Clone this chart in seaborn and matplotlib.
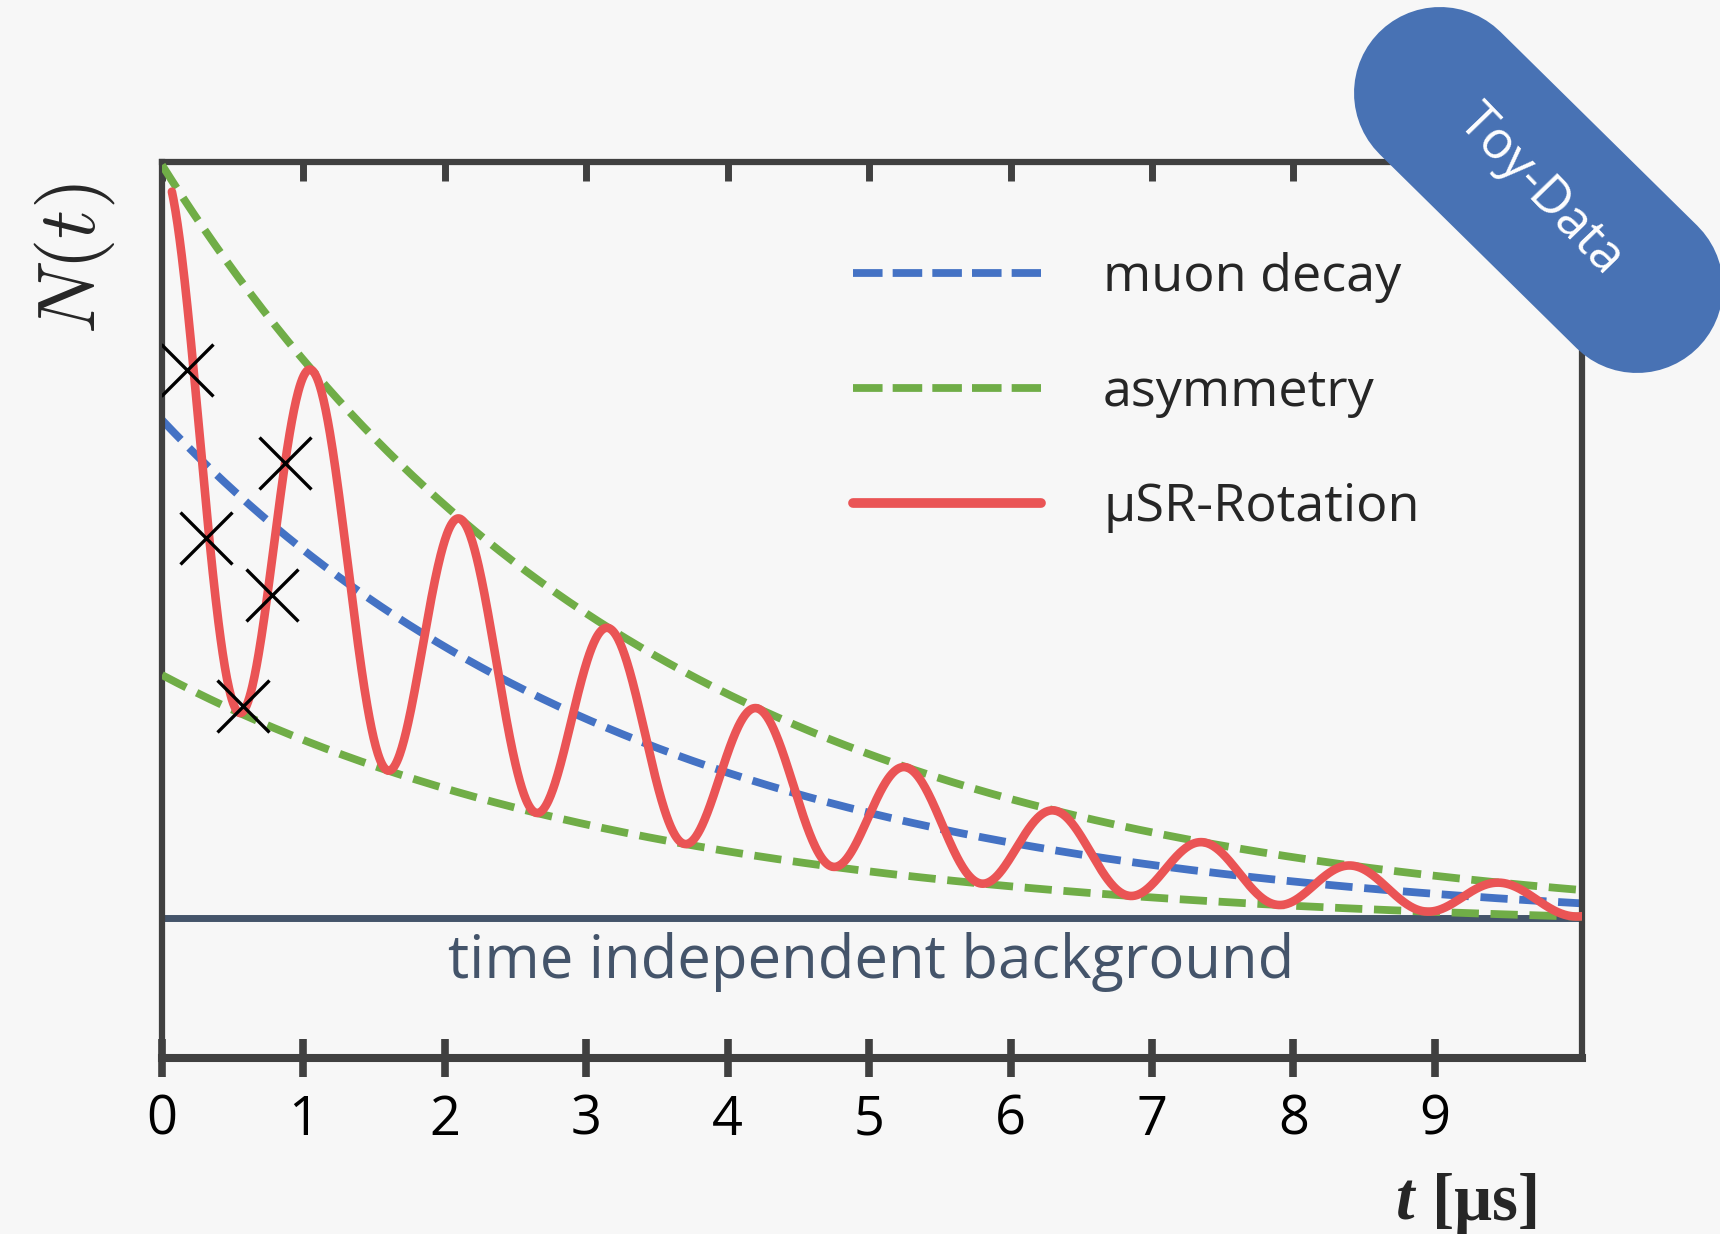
import numpy as np
import pandas as pd
import matplotlib
matplotlib.use("Agg")
import matplotlib.pyplot as plt
from matplotlib.lines import Line2D
import seaborn as sns

# values (time in µs, N(t) in arbitrary units)
TIME_TICKS = [0, 1, 2, 3, 4, 5, 6, 7, 8, 9]
T_MAX = 10.04
N_MAX = 8.96
BACKGROUND = 1.40      # the drawn "time independent background" line
ASYMPTOTE = 1.28       # level the curves decay to
DECAY_AMP = 5.10       # muon decay amplitude at t = 0
ASYM = 0.50            # relative asymmetry amplitude
LIFETIME = 3.4         # decay constant read from the envelopes
PERIOD = 1.05          # spacing of the red maxima
PHASE = 0.02           # position of the first maximum
RED_START = 0.07
CROSS_T = [0.18, 0.31, 0.57, 0.78, 0.87]
CROSS_N = [6.88, 5.20, 3.52, 4.63, 5.95]
LABELS = ["muon decay", "asymmetry", "μSR-Rotation"]

BLUE = "#4472C4"
GREEN = "#70AD47"
RED = "#EA5455"
NAVY = "#44546A"
FRAME = "#404040"
BG = "#F7F7F7"
DASH = (3.5, 1.5)

# model curves built from the read-off parameters
t = np.linspace(0, T_MAX, 800)
env = np.exp(-t / LIFETIME)
curves = pd.DataFrame({
    "t": t,
    "decay": ASYMPTOTE + DECAY_AMP * env,
    "upper": ASYMPTOTE + DECAY_AMP * (1 + ASYM) * env,
    "lower": ASYMPTOTE + DECAY_AMP * (1 - ASYM) * env,
})
tr = np.linspace(RED_START, T_MAX, 2000)
rotation = pd.DataFrame({
    "t": tr,
    "N": ASYMPTOTE + DECAY_AMP * np.exp(-tr / LIFETIME)
    * (1 + ASYM * np.cos(2 * np.pi * (tr - PHASE) / PERIOD)),
})

sns.set_theme(style="white")
plt.rcParams["font.family"] = ["Open Sans", "DejaVu Sans"]
plt.rcParams["mathtext.fontset"] = "cm"

fig = plt.figure(figsize=(17.2, 12.34), dpi=100, facecolor=BG)
ax = fig.add_axes([162 / 1720, 1 - 1058 / 1234, 1420 / 1720, 896 / 1234])
ax.set_facecolor(BG)

ax.axhline(BACKGROUND, color=NAVY, lw=5, zorder=1)
sns.lineplot(data=curves, x="t", y="decay", ax=ax, color=BLUE, lw=5.6, zorder=2)
ax.lines[-1].set_dashes(DASH)
for col in ["upper", "lower"]:
    sns.lineplot(data=curves, x="t", y=col, ax=ax, color=GREEN, lw=5.6, zorder=3)
    ax.lines[-1].set_dashes(DASH)
sns.lineplot(data=rotation, x="t", y="N", ax=ax, color=RED, lw=6.2, zorder=4, sort=False)
sns.scatterplot(x=CROSS_T, y=CROSS_N, ax=ax, marker="x", s=1400, color="black",
                linewidth=2.4, zorder=5)

ax.text(2.02, 0.80, "time independent background", color=NAVY, fontsize=43,
        ha="left", va="baseline")

ax.set_xlim(0, T_MAX)
ax.set_ylim(0, N_MAX)
ax.set_xticks(TIME_TICKS)
ax.set_xticklabels([str(v) for v in TIME_TICKS])
ax.set_yticks([])
ax.set_xlabel("")
ax.set_ylabel("")
ax.tick_params(axis="x", direction="inout", length=28, width=5.5, color=FRAME,
               pad=11, labelsize=39, labelcolor="black", bottom=True, top=False)
for side, sp in ax.spines.items():
    sp.set_visible(True)
    sp.set_color(FRAME)
    sp.set_linewidth(4.5)
ax.spines["bottom"].set_linewidth(5.8)

top = ax.secondary_xaxis("top")
top.set_xticks(TIME_TICKS)
top.set_xticklabels([])
top.tick_params(direction="in", length=14, width=5, color=FRAME)
top.spines["top"].set_visible(False)

handles = [
    Line2D([], [], color=BLUE, lw=5.6, dashes=(3.8, 1.3)),
    Line2D([], [], color=GREEN, lw=5.6, dashes=(3.8, 1.3)),
    Line2D([], [], color=RED, lw=7),
]
ax.legend(handles, LABELS, loc="upper left", bbox_to_anchor=(853 / 1720, 1 - 252 / 1234),
          bbox_transform=fig.transFigure, frameon=False, fontsize=37.5,
          handlelength=3.6, handletextpad=1.2, labelspacing=1.23,
          borderpad=0, borderaxespad=0)

fig.text(75 / 1720, 1 - 259 / 1234, r"$N(t)$", rotation=90, fontsize=58,
         ha="center", va="center")
fig.text(1396 / 1720, 1 - 1220 / 1234, "t", family="Liberation Serif",
         weight="bold", style="italic", fontsize=48, ha="left", va="baseline")
fig.text(1432 / 1720, 1 - 1220 / 1234, "[μs]", family="Liberation Serif",
         weight="bold", fontsize=48, ha="left", va="baseline")

# "Toy-Data" badge: a rounded bar across the top right corner
fig.add_artist(Line2D([14.40, 16.37], [12.34 - 0.93, 12.34 - 2.87],
                      transform=fig.dpi_scale_trans, lw=172 * 0.72,
                      color="#4872B4", solid_capstyle="round", zorder=10))
fig.text(1540 / 1720, 1 - 190 / 1234, "Toy-Data", rotation=-46, rotation_mode="anchor",
         ha="center", va="center", color="white", fontsize=37, zorder=11)

fig.savefig("out.png", dpi=100, facecolor=BG)
